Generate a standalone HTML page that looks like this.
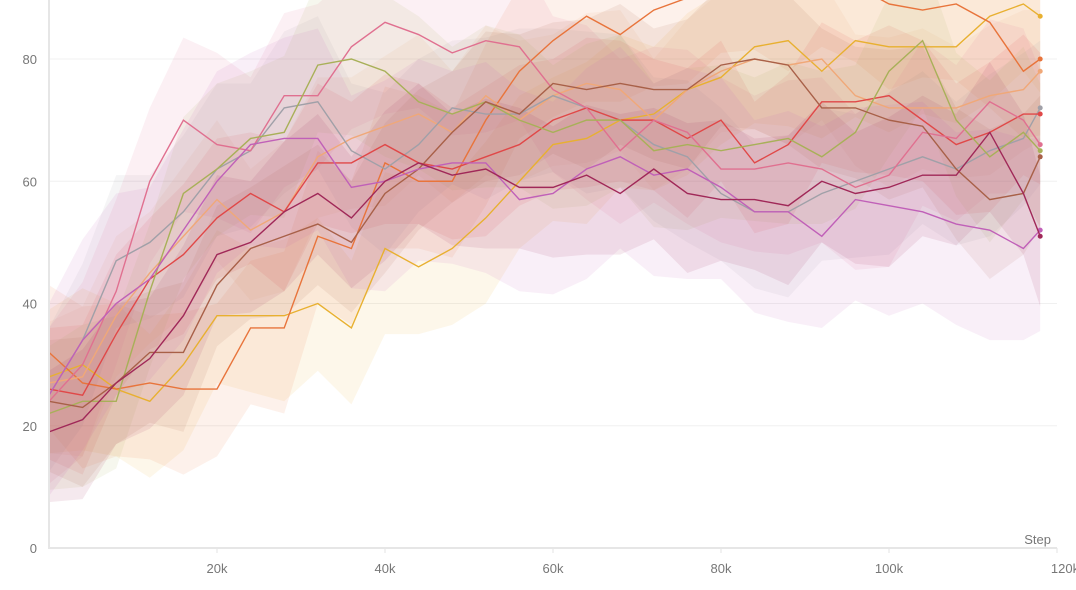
<!DOCTYPE html>
<html><head><meta charset="utf-8"><style>
html,body{margin:0;padding:0;background:#fff;}
svg{display:block;font-family:"Liberation Sans",sans-serif;}
</style></head><body>
<svg id="chart" width="1076" height="590" viewBox="0 0 1076 590">
<g id="grid"></g>
<g id="bands"></g>
<g id="lines"></g>
<g id="axes"></g>
</svg>
<script>
const steps=[0,4,8,12,16,20,24,28,32,36,40,44,48,52,56,60,64,68,72,76,80,84,88,92,96,100,104,108,112,116,118];
const yTicks=[0,20,40,60,80];
const xTicks=[20,40,60,80,100,120];
const xTickLabels=["20k","40k","60k","80k","100k","120k"];
const seriesNames=["gold","orange","peach","gray","red","rose","olive","brown","magenta","crimson"];
const seriesColors=["#e8b030","#e8743b","#f0a878","#a0a0a8","#e04848","#e07090","#a8b058","#a86048","#c060b8","#a02858"];
const gold=[28,30,26,24,30,38,38,38,40,36,49,46,49,54,60,66,67,70,71,75,77,82,83,78,83,82,82,82,87,89,87];
const orange=[32,27,26,27,26,26,36,36,51,49,63,60,60,70,78,83,87,84,88,90,92,94,92,93,92,89,88,89,86,78,80];
const peach=[27,28,38,45,51,57,52,55,64,67,69,71,68,74,70,74,76,75,70,75,78,80,79,80,74,72,72,72,74,75,78];
const gray=[25,34,47,50,55,62,65,72,73,65,62,66,72,71,71,74,72,70,66,64,58,55,55,58,60,62,64,62,65,67,72];
const red=[26,25,35,44,48,54,58,55,63,63,66,63,62,64,66,70,72,70,70,67,70,63,66,73,73,74,70,66,68,71,71];
const rose=[24,30,42,60,70,66,65,74,74,82,86,84,81,83,82,75,72,65,70,68,62,62,63,62,59,61,68,67,73,70,66];
const olive=[22,24,24,42,58,62,67,68,79,80,78,73,71,73,70,68,70,70,65,66,65,66,67,64,68,78,83,70,64,68,65];
const brown=[24,23,27,32,32,43,49,51,53,50,58,62,68,73,71,76,75,76,75,75,79,80,79,72,72,70,69,62,57,58,64];
const magenta=[25,34,40,44,52,60,66,67,67,59,60,62,63,63,57,58,62,64,61,62,59,55,55,51,57,56,55,53,52,49,52];
const crimson=[19,21,27,31,38,48,50,55,58,54,60,63,61,62,59,59,61,58,62,58,57,57,56,60,58,59,61,61,68,58,51];
const seriesValues=[gold,orange,peach,gray,red,rose,olive,brown,magenta,crimson];
const bandWidth=[11,11,10,11,10,12,11,10,15,10];

const X0=49,X1=1057,Y0=548,NS="http://www.w3.org/2000/svg";
function xs(k){return X0+(X1-X0)*k/120;}
function ys(v){return Y0-v*(548-59)/80;}
function mk(t,a){const e=document.createElementNS(NS,t);for(const k in a)e.setAttribute(k,a[k]);return e;}
const grid=document.getElementById('grid'),bands=document.getElementById('bands'),lines=document.getElementById('lines'),axes=document.getElementById('axes');
yTicks.forEach(v=>{
  if(v>0){const g=mk('line',{x1:X0,x2:X1,y1:ys(v),y2:ys(v),stroke:'#f0f0f0','stroke-width':1});
  
  
  grid.appendChild(g);}
  const t=mk('text',{x:37,y:ys(v)+5,'text-anchor':'end','font-size':13,fill:'#777'});
  t.textContent=v;
  
  
  axes.appendChild(t);
});
xTicks.forEach((k,i)=>{
  const tk=mk('line',{x1:xs(k),x2:xs(k),y1:Y0,y2:Y0+5,stroke:'#e3e3e3'});
  
  
  axes.appendChild(tk);
  const t=mk('text',{x:xs(k)+(k===120?8:0),y:573,'text-anchor':'middle','font-size':13,fill:'#777'});
  t.textContent=xTickLabels[i];
  
  
  axes.appendChild(t);
});
const ax=mk('path',{d:`M${X0},0V${Y0}H${X1}`,stroke:'#e6e6e6','stroke-width':2,fill:'none'});


axes.appendChild(ax);
const st=mk('text',{x:1051,y:544,'text-anchor':'end','font-size':13,fill:'#777'});
st.textContent='Step';


axes.appendChild(st);

seriesValues.forEach((vals,si)=>{
  const c=seriesColors[si],w=bandWidth[si];
  let up=vals.map((v,i)=>xs(steps[i])+','+ys(v+w+(i%3)*1.5));
  let lo=vals.map((v,i)=>xs(steps[i])+','+ys(v-w-((i+1)%3)*1.5)).reverse();
  const b=mk('polygon',{points:up.concat(lo).join(' '),fill:c,'fill-opacity':0.1});
  
  
  bands.appendChild(b);
  const l=mk('polyline',{points:vals.map((v,i)=>xs(steps[i])+','+ys(v)).join(' '),fill:'none',stroke:c,'stroke-width':1.4});
  
  
  lines.appendChild(l);
  const n=vals.length-1;
  const d=mk('circle',{cx:xs(steps[n]),cy:ys(vals[n]),r:2.5,fill:c});
  
  
  lines.appendChild(d);
});
</script>
</body></html>
